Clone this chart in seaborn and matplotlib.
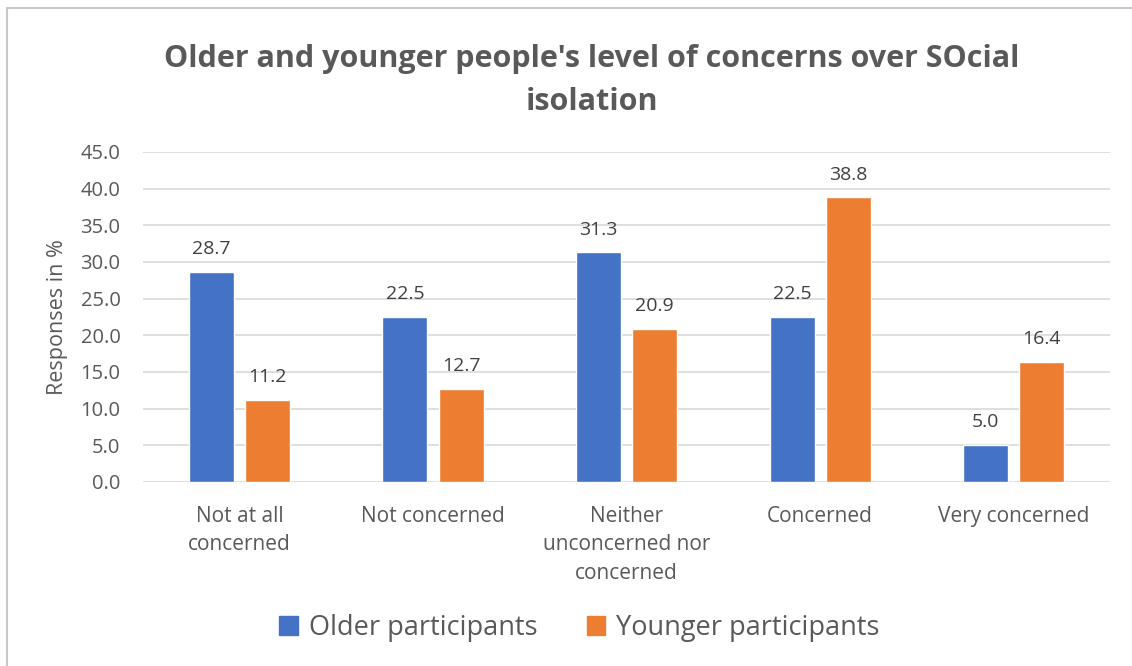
import numpy as np
import pandas as pd
import matplotlib
matplotlib.use("Agg")
import matplotlib.pyplot as plt
import seaborn as sns
from matplotlib.patches import Rectangle

# -----------------------------
# Data
# -----------------------------
categories = ["Not at all\nconcerned", "Not concerned",
              "Neither\nunconcerned nor\nconcerned", "Concerned", "Very concerned"]
older = [28.7, 22.5, 31.3, 22.5, 5.0]
younger = [11.2, 12.7, 20.9, 38.8, 16.4]
series_names = ["Older participants", "Younger participants"]
yticks = [0, 5, 10, 15, 20, 25, 30, 35, 40, 45]

df = pd.DataFrame({
    "category": categories * 2,
    "group": [series_names[0]] * 5 + [series_names[1]] * 5,
    "value": older + younger,
})

# -----------------------------
# Style
# -----------------------------
sns.set_style("white")
plt.rcParams["font.family"] = ["Open Sans", "DejaVu Sans"]
grey = "#595959"
palette = {series_names[0]: "#4472C4", series_names[1]: "#ED7D31"}

fig = plt.figure(figsize=(11.32, 6.66), dpi=100)
ax = fig.add_axes([0.126, 0.2763, 0.855, 0.4955])

sns.barplot(data=df, x="category", y="value", hue="group", palette=palette,
            width=0.58, gap=0.2, saturation=1, ax=ax, legend=False)

ax.set_ylim(0, 45)
ax.set_yticks(yticks)
ax.set_yticklabels([f"{t:.1f}" for t in yticks], color=grey, fontsize=14.5)
ax.tick_params(axis="x", colors=grey, labelsize=15, length=0, pad=17.5)
ax.tick_params(axis="y", length=0, pad=16)
for lbl in ax.get_xticklabels():
    lbl.set_color(grey)
    lbl.set_linespacing(1.45)
ax.set_xlabel("")
ax.set_ylabel("Responses in %", color=grey, fontsize=15.5)
ax.yaxis.set_label_coords(-0.077, 0.5)
ax.grid(axis="y", color="#d9d9d9", linewidth=1.2)
ax.set_axisbelow(True)
for s in ax.spines.values():
    s.set_visible(False)

for cont in ax.containers:
    ax.bar_label(cont, fmt="%.1f", padding=10, color="#404040", fontsize=14)

fig.text(0.523, 0.879, "Older and younger people's level of concerns over SOcial\nisolation",
         ha="center", va="center", fontsize=22, fontweight="bold", color=grey,
         linespacing=1.6)

# legend
handles = [Rectangle((0, 0), 1, 1, color=palette[n]) for n in series_names]
fig.legend(handles, series_names, loc="center", bbox_to_anchor=(0.512, 0.057),
           ncol=2, frameon=False, fontsize=19.5, handlelength=0.7, handleheight=0.7,
           columnspacing=1.8, handletextpad=0.4, labelcolor=grey)

# outer border (top and left visible)
fig.patches.append(Rectangle((0.0062, -0.1), 1.1, 1.088, transform=fig.transFigure,
                             fill=False, edgecolor="#c8c8c8", linewidth=1.5))

fig.savefig("out.png", dpi=100)
